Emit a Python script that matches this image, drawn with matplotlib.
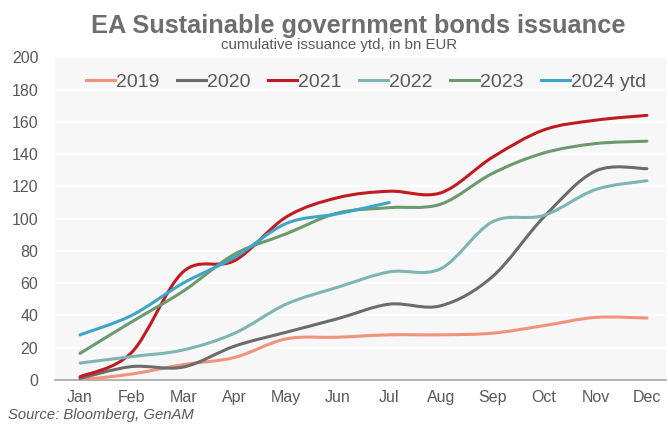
import matplotlib

matplotlib.use("Agg")

import matplotlib.pyplot as plt  # noqa: E402
import numpy as np  # noqa: E402
from matplotlib.lines import Line2D  # noqa: E402
from matplotlib.patches import PathPatch  # noqa: E402
from matplotlib.path import Path  # noqa: E402

MONTHS = ["Jan", "Feb", "Mar", "Apr", "May", "Jun",
          "Jul", "Aug", "Sep", "Oct", "Nov", "Dec"]

# cumulative issuance, bn EUR
ISSUANCE_2019 = [0, 3.7, 9.5, 14, 25.5, 26.5, 28, 28, 29, 33.7, 38.8, 38.4]
ISSUANCE_2020 = [1, 8.3, 8, 21, 29.6, 38, 47, 46, 64, 101, 129.5, 131]
ISSUANCE_2021 = [2, 17, 67, 74, 101, 113, 117, 116, 138, 155, 161, 164]
ISSUANCE_2022 = [10.5, 14.5, 18.6, 29, 47, 57.5, 67, 69, 98, 102, 118, 123.5]
ISSUANCE_2023 = [16.5, 36, 55, 78, 90.6, 103.5, 106.8, 109, 128, 140.7, 146.5, 148]
ISSUANCE_2024 = [28, 40, 60, 76, 97, 103, 110]

SERIES = [
    ("2019", ISSUANCE_2019, "#F3927A"),
    ("2020", ISSUANCE_2020, "#6B6B6B"),
    ("2021", ISSUANCE_2021, "#C01B20"),
    ("2022", ISSUANCE_2022, "#7DB5B3"),
    ("2023", ISSUANCE_2023, "#6B9A6C"),
    ("2024 ytd", ISSUANCE_2024, "#3EA5C7"),
]

TEXT = "#595959"
LW = 2.2

plt.rcParams["font.family"] = ["Liberation Sans", "DejaVu Sans"]


def smooth_path(values):
    """Bezier path through the points, spreadsheet-style smoothing."""
    y = np.asarray(values, dtype=float)
    x = np.arange(y.size, dtype=float)
    pts = np.column_stack([x, y])
    padded = np.vstack([pts[:1], pts, pts[-1:]])
    verts = [pts[0]]
    codes = [Path.MOVETO]
    for i in range(len(pts) - 1):
        p0, p1, p2, p3 = padded[i], padded[i + 1], padded[i + 2], padded[i + 3]
        c1 = p1 + (p2 - p0) / 6
        c2 = p2 - (p3 - p1) / 6
        verts += [c1, c2, p2]
        codes += [Path.CURVE4] * 3
    return Path(verts, codes)


fig = plt.figure(figsize=(6.68, 4.24), dpi=100)
ax = fig.add_axes([55 / 668, 1 - 380 / 424, 611 / 668, (380 - 57.3) / 424])
ax.set_facecolor("#F7F7F7")

handles = []
for label, values, color in SERIES:
    patch = PathPatch(smooth_path(values), facecolor="none", edgecolor=color,
                      linewidth=LW, capstyle="round", joinstyle="round", zorder=3)
    ax.add_patch(patch)
    handles.append(Line2D([], [], color=color, linewidth=LW, label=label))

ax.set_xlim(-0.485, 11.37)
ax.set_ylim(0, 200)
ax.set_xticks(range(len(MONTHS)))
ax.set_xticklabels(MONTHS)
ax.set_yticks(range(0, 201, 20))
ax.grid(axis="y", color="white", linewidth=1.4)
ax.set_axisbelow(True)
for side in ("top", "right", "left"):
    ax.spines[side].set_visible(False)
ax.spines["bottom"].set_color("#A6A6A6")
ax.spines["bottom"].set_linewidth(1.2)
ax.tick_params(length=0, labelsize=11.5, labelcolor=TEXT)
ax.tick_params(axis="x", pad=7)
ax.tick_params(axis="y", pad=12)

fig.legend(handles=handles, loc="center", ncol=6, frameon=False,
           bbox_to_anchor=(366 / 668, 1 - 82 / 424), fontsize=14,
           labelcolor=TEXT, handlelength=1.5, handletextpad=0.05,
           columnspacing=0.9)

fig.text(358 / 668, 1 - 32.5 / 424, "EA Sustainable government bonds issuance",
         ha="center", va="baseline", fontsize=18.3, fontweight="bold",
         color="#6E6E6E")
fig.text(339 / 668, 1 - 45.5 / 424, "cumulative issuance ytd, in bn EUR",
         ha="center", va="center", fontsize=10.8, color=TEXT)
fig.text(8 / 668, 1 - 415.5 / 424, "Source: Bloomberg, GenAM",
         ha="left", va="center", fontsize=10.7, style="italic", color=TEXT)

fig.savefig("out.png", dpi=100, facecolor="white")
